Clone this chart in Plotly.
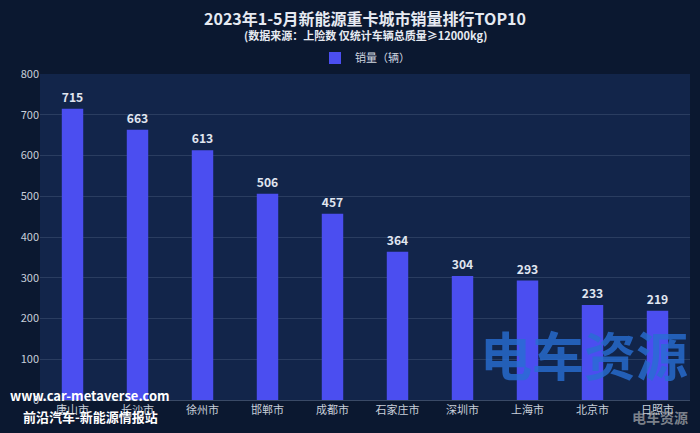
import plotly.graph_objects as go

cities = ["唐山市", "长沙市", "徐州市", "邯郸市", "成都市", "石家庄市", "深圳市", "上海市", "北京市", "日照市"]
sales = [715, 663, 613, 506, 457, 364, 304, 293, 233, 219]
y_ticks = [0, 100, 200, 300, 400, 500, 600, 700, 800]

font = "Noto Sans CJK SC"
fig = go.Figure(go.Bar(
    x=cities, y=sales, name="销量（辆）", marker=dict(color="#4b4ef0", line=dict(width=0)), width=0.33,
    text=["<b>%d</b>" % v for v in sales], textposition="outside",
    textfont=dict(color="#e0e6f0", size=16, family=font),
    cliponaxis=False,
))
fig.update_layout(
    width=700, height=433,
    paper_bgcolor="#0b1830", plot_bgcolor="#12254a",
    font=dict(family=font, color="#d0d6e0"),
    margin=dict(l=40, r=10, t=74, b=33, autoexpand=False),
    showlegend=True,
    legend=dict(orientation="h", x=0.5, xanchor="center", yref="container", y=1 - 58/433, yanchor="middle",
                font=dict(size=11, color="#d0d6e0"), bgcolor="rgba(0,0,0,0)"),
    xaxis=dict(tickfont=dict(size=11, color="#c8cfda"), showgrid=False, automargin=False,
               showline=True, linecolor="#3a4a66"),
    yaxis=dict(range=[0, 800], tickvals=y_ticks, tickfont=dict(size=11, color="#c8cfda"),
               gridcolor="#2a3d60", zeroline=False, automargin=False),
    bargap=0.5,
)
fig.add_annotation(text="<b>2023年1-5月新能源重卡城市销量排行TOP10</b>", xref="paper", yref="paper",
                   x=0.5, y=1.215, xanchor="center", yanchor="top", showarrow=False,
                   font=dict(size=16, color="#e6eaf2"))
fig.add_annotation(text="<b>(数据来源：上险数 仅统计车辆总质量≥12000kg)</b>", xref="paper", yref="paper",
                   x=0.5, y=1.15, xanchor="center", yanchor="top", showarrow=False,
                   font=dict(size=11, color="#e6eaf2"))
fig.add_annotation(text="<b>www.car-metaverse.com</b>", xref="paper", yref="paper", x=-0.05, y=-0.02,
                   xanchor="left", yanchor="bottom", showarrow=False, font=dict(size=13, color="#ffffff"))
fig.add_annotation(text="<b>前沿汽车-新能源情报站</b>", xref="paper", yref="paper", x=-0.03, y=-0.085,
                   xanchor="left", yanchor="bottom", showarrow=False, font=dict(size=13, color="#ffffff"))
fig.add_annotation(text="<b>电车资源</b>", xref="paper", yref="paper", x=1.0, y=0.02,
                   xanchor="right", yanchor="bottom", showarrow=False,
                   font=dict(size=52, color="rgba(40,110,210,0.8)"))
fig.add_annotation(text="<b>电车资源</b>", xref="paper", yref="paper", x=1.0, y=-0.09,
                   xanchor="right", yanchor="bottom", showarrow=False,
                   font=dict(size=14, color="rgba(200,200,200,0.6)"))
fig.write_html("out.html", post_script="document.body.style.margin='0';",
               config={"displayModeBar": False})
